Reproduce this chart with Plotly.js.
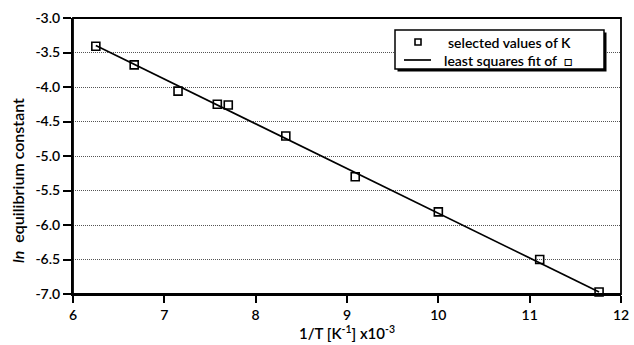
<!DOCTYPE html>
<html>
<head>
<meta charset="utf-8">
<script src="https://cdn.plot.ly/plotly-3.0.1.min.js"></script>
<style>html,body{margin:0;padding:0;background:#fff;}#chart{width:634px;height:345px;}</style>
</head>
<body>
<div id="chart"></div>
<script>
// selected values of K (x = 1/T [K^-1] x10^-3, y = ln K)
const invT = [6.25, 6.67, 7.15, 7.58, 7.70, 8.33, 9.09, 10.0, 11.11, 11.76];
const lnK = [-3.41, -3.68, -4.06, -4.25, -4.26, -4.71, -5.30, -5.81, -6.50, -6.97];
// least squares fit line endpoints
const fitX = [6.25, 11.76];
const fitY = [-3.40, -6.97];
const xTicks = [6, 7, 8, 9, 10, 11, 12];
const yTicks = [-3.0, -3.5, -4.0, -4.5, -5.0, -5.5, -6.0, -6.5, -7.0];
const legendNames = ['selected values of K', 'least squares fit of  \u25A1'];

const FAM = 'Lato, "Open Sans", sans-serif';
const M = {l: 73, r: 13, t: 18, b: 51};
const W = 634, H = 345;
const PW = W - M.l - M.r, PH = H - M.t - M.b;
const px = v => (v - M.l) / PW;        // pixel -> paper x
const py = v => (H - M.b - v) / PH;    // pixel -> paper y

const traces = [
  {x: invT, y: lnK, type: 'scatter', mode: 'markers', name: legendNames[0],
   marker: {symbol: 'square-open', size: 8, color: '#000', line: {width: 1.6, color: '#000'}},
   cliponaxis: false, showlegend: false},
  {x: fitX, y: fitY, type: 'scatter', mode: 'lines', name: legendNames[1],
   line: {color: '#000', width: 1.7}, showlegend: false}
];

// legend box (drawn manually to match the reference's compact boxed legend)
const box = {x0: 395, x1: 604, y0: 30, y1: 69};
const shapes = [
  {type: 'rect', xref: 'paper', yref: 'paper', x0: 0, x1: 1, y0: 0, y1: 1,
   line: {color: '#000', width: 1.8}, layer: 'above'},
  // shadow
  {type: 'rect', xref: 'paper', yref: 'paper', x0: px(box.x0 + 2.5), x1: px(box.x1 + 2.5),
   y0: py(box.y1 + 2.5), y1: py(box.y0 + 2.5), fillcolor: '#000', line: {width: 0}, layer: 'above'},
  {type: 'rect', xref: 'paper', yref: 'paper', x0: px(box.x0), x1: px(box.x1),
   y0: py(box.y1), y1: py(box.y0), fillcolor: '#fff', line: {color: '#000', width: 1.5}, layer: 'above'},
  // marker sample
  {type: 'rect', xref: 'paper', yref: 'paper', x0: px(415), x1: px(421), y0: py(45), y1: py(39),
   fillcolor: 'rgba(0,0,0,0)', line: {color: '#000', width: 1.6}, layer: 'above'},
  // line sample
  {type: 'line', xref: 'paper', yref: 'paper', x0: px(404), x1: px(431), y0: py(60), y1: py(60),
   line: {color: '#000', width: 1.7}, layer: 'above'}
];

const annotations = [
  {xref: 'paper', yref: 'paper', x: -0.1, y: 0.41, xanchor: 'center', yanchor: 'middle',
   text: '<i>ln</i>  equilibrium constant', textangle: -90, showarrow: false,
   font: {family: FAM, size: 16, color: '#000', weight: 600}},
  {xref: 'paper', yref: 'paper', x: px(446), y: py(42), xanchor: 'left', yanchor: 'middle',
   text: legendNames[0], showarrow: false, font: {family: FAM, size: 14, color: '#000', weight: 600}},
  {xref: 'paper', yref: 'paper', x: px(442), y: py(60), xanchor: 'left', yanchor: 'middle',
   text: legendNames[1], showarrow: false, font: {family: FAM, size: 14, color: '#000', weight: 600}}
];

const tickFont = {family: FAM, size: 14, color: '#000', weight: 600};

const layout = {
  width: W, height: H,
  margin: M,
  paper_bgcolor: '#fff', plot_bgcolor: '#fff',
  font: {family: FAM, size: 13, color: '#000'},
  showlegend: false,
  xaxis: {range: [6, 12], tickvals: xTicks, ticktext: xTicks.map(String),
    showgrid: false, zeroline: false, showline: true, linecolor: '#000', linewidth: 2,
    ticks: 'outside', ticklen: 7, tickwidth: 2, tickcolor: '#000',
    tickfont: tickFont,
    title: {text: '1/T [K<sup>-1</sup>] x10<sup>-3</sup>', font: {family: FAM, size: 15, color: '#000', weight: 600}, standoff: 4}},
  yaxis: {range: [-7, -3], tickvals: yTicks, ticktext: yTicks.map(v => v.toFixed(1)),
    showgrid: true, gridcolor: '#555', gridwidth: 1, griddash: '1px,1px', zeroline: false,
    showline: true, linecolor: '#000', linewidth: 2,
    ticks: 'outside', ticklen: 8, tickwidth: 2, tickcolor: '#000',
    tickfont: tickFont},
  shapes: shapes,
  annotations: annotations
};

Plotly.newPlot('chart', traces, layout, {displayModeBar: false, staticPlot: true});
</script>
</body>
</html>
